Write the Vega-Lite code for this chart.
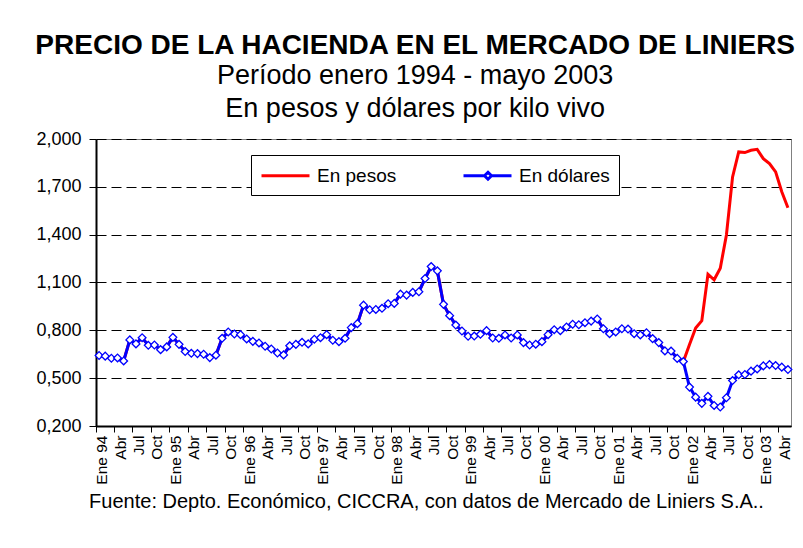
{
  "$schema": "https://vega.github.io/schema/vega-lite/v6.json",
  "width": 695,
  "height": 287,
  "autosize": {"type": "pad"},
  "padding": {"left": 34, "top": 32, "right": 10, "bottom": 6},
  "background": "white",
  "config": {
    "font": "Liberation Sans",
    "view": {"stroke": "#808080", "strokeWidth": 1}
  },
  "title": {
    "text": "PRECIO DE LA HACIENDA EN EL MERCADO DE LINIERS",
    "subtitle": ["Período enero 1994 - mayo 2003", "En pesos y dólares por kilo vivo"],
    "fontSize": 28,
    "fontWeight": "bold",
    "color": "black",
    "subtitleFontSize": 27,
    "subtitleColor": "black",
    "subtitlePadding": 3,
    "subtitleLineHeight": 33,
    "anchor": "middle",
    "frame": "bounds",
    "offset": 8
  },
  "data": {
    "values": [
      {"mes": "1994-01", "dolares": 0.642, "pesos": 0.642},
      {"mes": "1994-02", "dolares": 0.638, "pesos": 0.638},
      {"mes": "1994-03", "dolares": 0.625, "pesos": 0.625},
      {"mes": "1994-04", "dolares": 0.627, "pesos": 0.627},
      {"mes": "1994-05", "dolares": 0.608, "pesos": 0.608},
      {"mes": "1994-06", "dolares": 0.740, "pesos": 0.740},
      {"mes": "1994-07", "dolares": 0.715, "pesos": 0.715},
      {"mes": "1994-08", "dolares": 0.754, "pesos": 0.754},
      {"mes": "1994-09", "dolares": 0.706, "pesos": 0.706},
      {"mes": "1994-10", "dolares": 0.708, "pesos": 0.708},
      {"mes": "1994-11", "dolares": 0.679, "pesos": 0.679},
      {"mes": "1994-12", "dolares": 0.696, "pesos": 0.696},
      {"mes": "1995-01", "dolares": 0.756, "pesos": 0.756},
      {"mes": "1995-02", "dolares": 0.712, "pesos": 0.712},
      {"mes": "1995-03", "dolares": 0.667, "pesos": 0.667},
      {"mes": "1995-04", "dolares": 0.656, "pesos": 0.656},
      {"mes": "1995-05", "dolares": 0.654, "pesos": 0.654},
      {"mes": "1995-06", "dolares": 0.650, "pesos": 0.650},
      {"mes": "1995-07", "dolares": 0.629, "pesos": 0.629},
      {"mes": "1995-08", "dolares": 0.644, "pesos": 0.644},
      {"mes": "1995-09", "dolares": 0.750, "pesos": 0.750},
      {"mes": "1995-10", "dolares": 0.790, "pesos": 0.790},
      {"mes": "1995-11", "dolares": 0.777, "pesos": 0.777},
      {"mes": "1995-12", "dolares": 0.773, "pesos": 0.773},
      {"mes": "1996-01", "dolares": 0.746, "pesos": 0.746},
      {"mes": "1996-02", "dolares": 0.731, "pesos": 0.731},
      {"mes": "1996-03", "dolares": 0.721, "pesos": 0.721},
      {"mes": "1996-04", "dolares": 0.700, "pesos": 0.700},
      {"mes": "1996-05", "dolares": 0.683, "pesos": 0.683},
      {"mes": "1996-06", "dolares": 0.658, "pesos": 0.658},
      {"mes": "1996-07", "dolares": 0.646, "pesos": 0.646},
      {"mes": "1996-08", "dolares": 0.703, "pesos": 0.703},
      {"mes": "1996-09", "dolares": 0.712, "pesos": 0.712},
      {"mes": "1996-10", "dolares": 0.725, "pesos": 0.725},
      {"mes": "1996-11", "dolares": 0.715, "pesos": 0.715},
      {"mes": "1996-12", "dolares": 0.744, "pesos": 0.744},
      {"mes": "1997-01", "dolares": 0.754, "pesos": 0.754},
      {"mes": "1997-02", "dolares": 0.773, "pesos": 0.773},
      {"mes": "1997-03", "dolares": 0.738, "pesos": 0.738},
      {"mes": "1997-04", "dolares": 0.729, "pesos": 0.729},
      {"mes": "1997-05", "dolares": 0.750, "pesos": 0.750},
      {"mes": "1997-06", "dolares": 0.817, "pesos": 0.817},
      {"mes": "1997-07", "dolares": 0.842, "pesos": 0.842},
      {"mes": "1997-08", "dolares": 0.958, "pesos": 0.958},
      {"mes": "1997-09", "dolares": 0.929, "pesos": 0.929},
      {"mes": "1997-10", "dolares": 0.931, "pesos": 0.931},
      {"mes": "1997-11", "dolares": 0.938, "pesos": 0.938},
      {"mes": "1997-12", "dolares": 0.967, "pesos": 0.967},
      {"mes": "1998-01", "dolares": 0.969, "pesos": 0.969},
      {"mes": "1998-02", "dolares": 1.027, "pesos": 1.027},
      {"mes": "1998-03", "dolares": 1.021, "pesos": 1.021},
      {"mes": "1998-04", "dolares": 1.038, "pesos": 1.038},
      {"mes": "1998-05", "dolares": 1.042, "pesos": 1.042},
      {"mes": "1998-06", "dolares": 1.125, "pesos": 1.125},
      {"mes": "1998-07", "dolares": 1.200, "pesos": 1.200},
      {"mes": "1998-08", "dolares": 1.173, "pesos": 1.173},
      {"mes": "1998-09", "dolares": 0.963, "pesos": 0.963},
      {"mes": "1998-10", "dolares": 0.892, "pesos": 0.892},
      {"mes": "1998-11", "dolares": 0.833, "pesos": 0.833},
      {"mes": "1998-12", "dolares": 0.796, "pesos": 0.796},
      {"mes": "1999-01", "dolares": 0.763, "pesos": 0.763},
      {"mes": "1999-02", "dolares": 0.764, "pesos": 0.764},
      {"mes": "1999-03", "dolares": 0.775, "pesos": 0.775},
      {"mes": "1999-04", "dolares": 0.798, "pesos": 0.798},
      {"mes": "1999-05", "dolares": 0.752, "pesos": 0.752},
      {"mes": "1999-06", "dolares": 0.750, "pesos": 0.750},
      {"mes": "1999-07", "dolares": 0.771, "pesos": 0.771},
      {"mes": "1999-08", "dolares": 0.752, "pesos": 0.752},
      {"mes": "1999-09", "dolares": 0.771, "pesos": 0.771},
      {"mes": "1999-10", "dolares": 0.723, "pesos": 0.723},
      {"mes": "1999-11", "dolares": 0.708, "pesos": 0.708},
      {"mes": "1999-12", "dolares": 0.713, "pesos": 0.713},
      {"mes": "2000-01", "dolares": 0.729, "pesos": 0.729},
      {"mes": "2000-02", "dolares": 0.773, "pesos": 0.773},
      {"mes": "2000-03", "dolares": 0.804, "pesos": 0.804},
      {"mes": "2000-04", "dolares": 0.798, "pesos": 0.798},
      {"mes": "2000-05", "dolares": 0.821, "pesos": 0.821},
      {"mes": "2000-06", "dolares": 0.838, "pesos": 0.838},
      {"mes": "2000-07", "dolares": 0.835, "pesos": 0.835},
      {"mes": "2000-08", "dolares": 0.848, "pesos": 0.848},
      {"mes": "2000-09", "dolares": 0.858, "pesos": 0.858},
      {"mes": "2000-10", "dolares": 0.871, "pesos": 0.871},
      {"mes": "2000-11", "dolares": 0.810, "pesos": 0.810},
      {"mes": "2000-12", "dolares": 0.779, "pesos": 0.779},
      {"mes": "2001-01", "dolares": 0.790, "pesos": 0.790},
      {"mes": "2001-02", "dolares": 0.810, "pesos": 0.810},
      {"mes": "2001-03", "dolares": 0.808, "pesos": 0.808},
      {"mes": "2001-04", "dolares": 0.779, "pesos": 0.779},
      {"mes": "2001-05", "dolares": 0.771, "pesos": 0.771},
      {"mes": "2001-06", "dolares": 0.785, "pesos": 0.785},
      {"mes": "2001-07", "dolares": 0.748, "pesos": 0.748},
      {"mes": "2001-08", "dolares": 0.723, "pesos": 0.723},
      {"mes": "2001-09", "dolares": 0.671, "pesos": 0.671},
      {"mes": "2001-10", "dolares": 0.670, "pesos": 0.670},
      {"mes": "2001-11", "dolares": 0.624, "pesos": 0.624},
      {"mes": "2001-12", "dolares": 0.604, "pesos": 0.604},
      {"mes": "2002-01", "dolares": 0.444, "pesos": 0.711},
      {"mes": "2002-02", "dolares": 0.381, "pesos": 0.815},
      {"mes": "2002-03", "dolares": 0.342, "pesos": 0.861},
      {"mes": "2002-04", "dolares": 0.386, "pesos": 1.152},
      {"mes": "2002-05", "dolares": 0.329, "pesos": 1.117},
      {"mes": "2002-06", "dolares": 0.319, "pesos": 1.190},
      {"mes": "2002-07", "dolares": 0.377, "pesos": 1.398},
      {"mes": "2002-08", "dolares": 0.485, "pesos": 1.762},
      {"mes": "2002-09", "dolares": 0.521, "pesos": 1.919},
      {"mes": "2002-10", "dolares": 0.523, "pesos": 1.915},
      {"mes": "2002-11", "dolares": 0.544, "pesos": 1.929},
      {"mes": "2002-12", "dolares": 0.558, "pesos": 1.935},
      {"mes": "2003-01", "dolares": 0.577, "pesos": 1.877},
      {"mes": "2003-02", "dolares": 0.585, "pesos": 1.846},
      {"mes": "2003-03", "dolares": 0.579, "pesos": 1.794},
      {"mes": "2003-04", "dolares": 0.569, "pesos": 1.669},
      {"mes": "2003-05", "dolares": 0.554, "pesos": 1.569}
    ]
  },
  "encoding": {
    "x": {
      "field": "mes",
      "type": "ordinal",
      "bandPosition": 0.5,
      "scale": {"type": "band", "paddingInner": 0, "paddingOuter": 0},
      "axis": {
        "values": ["1994-01","1994-04","1994-07","1994-10","1995-01","1995-04","1995-07","1995-10","1996-01","1996-04","1996-07","1996-10","1997-01","1997-04","1997-07","1997-10","1998-01","1998-04","1998-07","1998-10","1999-01","1999-04","1999-07","1999-10","2000-01","2000-04","2000-07","2000-10","2001-01","2001-04","2001-07","2001-10","2002-01","2002-04","2002-07","2002-10","2003-01","2003-04"],
        "labelExpr": "substring(datum.value,5,7)=='01' ? 'Ene ' + substring(datum.value,2,4) : substring(datum.value,5,7)=='04' ? 'Abr' : substring(datum.value,5,7)=='07' ? 'Jul' : 'Oct'",
        "labelAngle": -90,
        "labelFontSize": 15.5,
        "labelColor": "black",
        "labelPadding": 3,
        "labelOverlap": false,
        "bandPosition": 0,
        "labelOffset": 3,
        "ticks": true,
        "tickSize": 6,
        "tickColor": "black",
        "domainColor": "black",
        "domainWidth": 2,
        "grid": false,
        "title": "Fuente: Depto. Económico, CICCRA, con datos de Mercado de Liniers S.A..",
        "titleFontSize": 20,
        "titleFontWeight": "normal",
        "titleColor": "black",
        "titlePadding": 7,
        "titleX": 330
      }
    }
  },
  "layer": [
    {
      "mark": {"type": "line", "strokeWidth": 3, "color": "#FF0000"},
      "encoding": {
        "y": {
          "field": "pesos",
          "type": "quantitative",
          "scale": {"domain": [0.2, 2.0], "nice": false, "zero": false},
          "axis": {
            "values": [0.2, 0.5, 0.8, 1.1, 1.4, 1.7, 2.0],
            "labelExpr": "replace(format(datum.value, '.3f'), '.', ',')",
            "labelFontSize": 18,
            "labelColor": "black",
            "labelPadding": 8,
            "tickSize": 7,
            "tickColor": "black",
            "domainColor": "black",
            "domainWidth": 2,
            "gridColor": "black",
            "gridDash": [10, 5],
            "gridWidth": 1,
            "title": null
          }
        },
        "color": {
          "datum": "En pesos",
          "scale": {"domain": ["En pesos", "En dólares"], "range": ["#FF0000", "#0000FF"]},
          "legend": {
            "title": null,
            "orient": "none",
            "legendX": 155,
            "legendY": 16,
            "direction": "horizontal",
            "strokeColor": "black",
            "fillColor": "white",
            "padding": 9,
            "labelFontSize": 19,
            "labelColor": "black",
            "labelOffset": 34,
            "columnPadding": 60,
            "symbolSize": 400,
            "symbolStrokeWidth": 3,
            "encode": {
              "symbols": {
                "update": {
                  "shape": {"signal": "datum.value == 'En pesos' ? 'M-1,0H3.8' : 'M-1,0H1.1M1.8,0H3.8M1.45,-0.35L1.8,0L1.45,0.35L1.1,0Z'"},
                  "fill": {"value": "white"}
                }
              }
            }
          }
        }
      }
    },
    {
      "mark": {"type": "line", "strokeWidth": 3},
      "encoding": {
        "y": {"field": "dolares", "type": "quantitative"},
        "color": {"datum": "En dólares"}
      }
    },
    {
      "mark": {"type": "point", "shape": "diamond", "filled": true, "fill": "white", "stroke": "#0000FF", "strokeWidth": 1.3, "size": 60, "opacity": 1},
      "encoding": {
        "y": {"field": "dolares", "type": "quantitative"}
      }
    }
  ]
}
